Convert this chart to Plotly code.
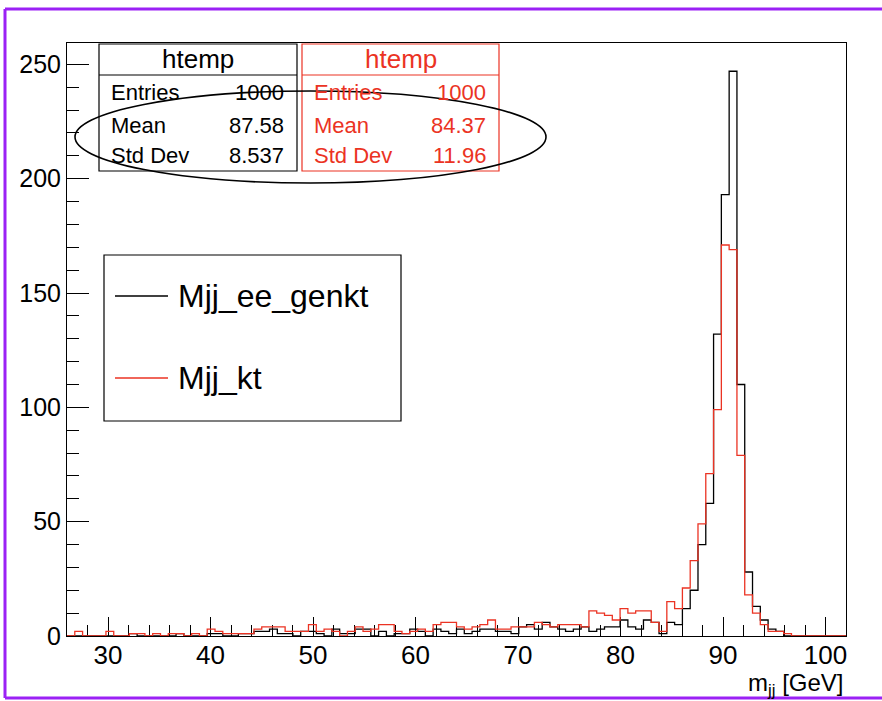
import numpy as np
import plotly.graph_objects as go

# ---------------- data ----------------
x_min, x_max, n_bins = 26.0, 102.0, 100
black_counts = [
    0, 0, 0, 0, 0, 0, 0, 0, 1, 0, 0, 0, 0, 0, 1, 0, 0, 0, 1, 1,
    0, 0, 1, 1, 2, 2, 3, 1, 1, 0, 2, 2, 1, 0, 3, 1, 1, 3, 3, 0,
    2, 0, 1, 1, 3, 2, 0, 3, 2, 1, 3, 1, 2, 3, 3, 2, 2, 1, 4, 5,
    3, 6, 4, 3, 2, 3, 4, 2, 3, 4, 4, 7, 4, 3, 7, 6, 1, 6, 5, 12,
    20, 40, 58, 132, 193, 247, 110, 28, 13, 7, 3, 2, 0, 0, 0, 0, 0, 0, 0, 0,
]
red_counts = [
    0, 2, 0, 0, 0, 2, 0, 0, 1, 1, 0, 1, 0, 1, 1, 0, 1, 0, 3, 2,
    1, 1, 1, 1, 3, 4, 4, 4, 2, 2, 2, 5, 2, 3, 2, 0, 2, 4, 2, 3,
    5, 5, 2, 1, 2, 3, 2, 5, 6, 6, 4, 3, 4, 5, 7, 3, 3, 4, 4, 4,
    6, 5, 4, 5, 5, 5, 4, 11, 10, 9, 7, 12, 10, 11, 11, 6, 2, 15, 12, 21,
    33, 49, 71, 99, 171, 169, 79, 18, 10, 5, 2, 2, 1, 0, 0, 0, 0, 0, 0, 0,
]
black_name = "Mjj_ee_genkt"
red_name = "Mjj_kt"
stats_labels = ["Entries", "Mean", "Std Dev"]
black_stats = ["1000", "87.58", "8.537"]
red_stats = ["1000", "84.37", "11.96"]
hist_title = "htemp"
x_title = "m<sub>jj</sub> [GeV]"

# ---------------- layout constants ----------------
W, H = 882, 701
L, R, T, B = 67, 846, 43, 636
RED = "#eb3323"
PURPLE = "#9b21f5"
FONT = "Liberation Sans, Arial, Helvetica, sans-serif"

edges = np.linspace(x_min, x_max, n_bins + 1)
y_max = max(black_counts) * 1.05


def px(xp):
    return (xp - L) / (R - L)


def py(yp):
    return (B - yp) / (B - T)


def step_xy(counts):
    xs = list(edges)
    ys = list(counts) + [counts[-1]]
    return xs, ys


fig = go.Figure()
bx, by = step_xy(black_counts)
rx, ry = step_xy(red_counts)
fig.add_trace(go.Scatter(x=bx, y=by, mode="lines", line=dict(color="black", width=1.3, shape="hv"),
                         showlegend=False, hoverinfo="skip"))
fig.add_trace(go.Scatter(x=rx, y=ry, mode="lines", line=dict(color=RED, width=1.3, shape="hv"),
                         showlegend=False, hoverinfo="skip"))

shapes = []
annotations = []


def rect(x0, y0, x1, y1, color, width=1.2):
    shapes.append(dict(type="rect", xref="paper", yref="paper",
                       x0=px(x0), x1=px(x1), y0=py(y1), y1=py(y0),
                       line=dict(color=color, width=width), fillcolor="rgba(255,255,255,1)", layer="above"))


def line(x0, y0, x1, y1, color, width=1.2):
    shapes.append(dict(type="line", xref="paper", yref="paper",
                       x0=px(x0), x1=px(x1), y0=py(y0), y1=py(y1),
                       line=dict(color=color, width=width), layer="above"))


def text(s, x, y, color="black", size=22, anchor="left"):
    annotations.append(dict(text=s, xref="paper", yref="paper", x=px(x), y=py(y),
                            xanchor=anchor, yanchor="middle", showarrow=False,
                            font=dict(family=FONT, size=size, color=color)))


# stats boxes
for (bx0, bx1, col, vals) in [(99, 297, "black", black_stats), (302, 499, RED, red_stats)]:
    rect(bx0, 44, bx1, 171, col)
    line(bx0, 75, bx1, 75, col)
    text(hist_title, (bx0 + bx1) / 2, 59, col, 26, "center")
    for i, (lab, v) in enumerate(zip(stats_labels, vals)):
        yy = [92, 125, 155][i]
        text(lab, bx0 + 10, yy, col, 22, "left")
        text(v, bx1 - 11, yy, col, 22, "right")

# ellipse
shapes.append(dict(type="circle", xref="paper", yref="paper",
                   x0=px(75), x1=px(546), y0=py(183), y1=py(91),
                   line=dict(color="black", width=1.6), layer="above"))

# legend
rect(104, 255, 401, 421, "black")
line(115, 296, 168, 296, "black", 1.5)
text(black_name, 176, 296, "black", 32, "left")
line(115, 378, 168, 378, RED, 1.5)
text(red_name, 176, 378, "black", 32, "left")

# x title
text(x_title, R, 684, "black", 24, "right")

# purple border
line(5, 9, 882, 9, PURPLE, 3)
line(5, 9, 5, 698, PURPLE, 3)
line(5, 698, 882, 698, PURPLE, 3)

fig.update_layout(
    width=W, height=H,
    margin=dict(l=L, r=W - R, t=T, b=H - B),
    paper_bgcolor="white", plot_bgcolor="white",
    shapes=shapes, annotations=annotations,
    showlegend=False,
    xaxis=dict(range=[x_min, x_max], showgrid=False, zeroline=False,
               showline=True, linecolor="black", linewidth=1, mirror=True,
               ticks="inside", ticklen=19, tickcolor="black", tickwidth=1,
               tick0=0, dtick=10, tickfont=dict(family=FONT, size=26, color="black"),
               ticklabelstandoff=-4,
               minor=dict(ticks="inside", ticklen=11, dtick=2, tick0=0, tickcolor="black", showgrid=False),
               layer="below traces", fixedrange=True),
    yaxis=dict(range=[0, y_max], showgrid=False, zeroline=False,
               showline=True, linecolor="black", linewidth=1, mirror=True,
               ticks="inside", ticklen=22, tickcolor="black", tickwidth=1,
               tick0=0, dtick=50, tickfont=dict(family=FONT, size=25, color="black"),
               minor=dict(ticks="inside", ticklen=12, dtick=10, tick0=0, tickcolor="black", showgrid=False),
               layer="below traces", fixedrange=True),
)

fig.write_html("out.html")
